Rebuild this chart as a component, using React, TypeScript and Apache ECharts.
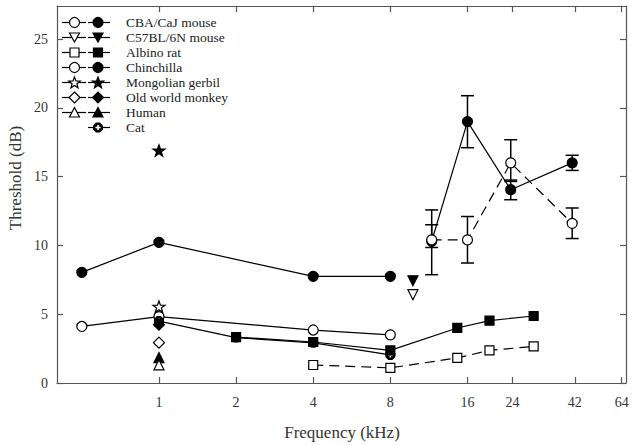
import React, { useEffect, useRef } from "react";
import * as echarts from "echarts";

// ---------- data ----------
const xTickValues = [1, 2, 4, 8, 16, 24, 42, 64];
const yTickValues = [0, 5, 10, 15, 20, 25];

const cbaFreq = [11.6, 16, 23.6, 41];
const cbaFilled = [10.3, 19.0, 14.05, 16.0];
const cbaFilledLow = [7.87, 17.1, 13.32, 15.45];
const cbaFilledHigh = [12.58, 20.88, 14.75, 16.55];
const cbaOpen = [10.4, 10.4, 16.0, 11.6];
const cbaOpenLow = [9.85, 8.72, 14.65, 10.5];
const cbaOpenHigh = [11.5, 12.1, 17.68, 12.72];

const c57Freq = [9.8];
const c57Filled = [7.43];
const c57Open = [6.42];

const ratFilledFreq = [2, 4, 8, 14.6, 19.5, 29];
const ratFilled = [3.34, 2.98, 2.37, 4.0, 4.53, 4.87];
const ratOpenFreq = [4, 8, 14.6, 19.5, 29];
const ratOpen = [1.31, 1.1, 1.82, 2.37, 2.66];

const chinFreq = [0.5, 1, 4, 8];
const chinFilled = [8.04, 10.22, 7.75, 7.75];
const chinOpen = [4.11, 4.82, 3.85, 3.5];

const gerbilFreq = [1];
const gerbilFilled = [16.9];
const gerbilOpen = [5.55];

const monkeyFreq = [1];
const monkeyFilled = [4.24];
const monkeyOpen = [2.93];

const humanFreq = [1];
const humanFilled = [1.85];
const humanOpen = [1.32];

const catFreq = [1, 2, 4, 8];
const catFilled = [4.5, 3.3, 2.92, 2.04];

const legendLabels = [
  "CBA/CaJ mouse",
  "C57BL/6N mouse",
  "Albino rat",
  "Chinchilla",
  "Mongolian gerbil",
  "Old world monkey",
  "Human",
  "Cat",
];
const legendKinds = ["circle", "triDown", "square", "circle", "star", "diamond", "triUp", "cat"];

const xTitle = "Frequency (kHz)";
const yTitle = "Threshold (dB)";

// ---------- helpers ----------
const FONT = "'Liberation Serif', 'DejaVu Serif', serif";
const INK = "#000";

function starPath(): string {
  const pts: string[] = [];
  for (let k = 0; k < 10; k++) {
    const a = -Math.PI / 2 + (k * Math.PI) / 5;
    const r = k % 2 === 0 ? 50 : 20;
    pts.push(`${(50 + r * Math.cos(a)).toFixed(2)},${(50 + r * Math.sin(a)).toFixed(2)}`);
  }
  return "path://M" + pts.join(" L") + " Z";
}
const STAR = starPath();
const CAT =
  "path://M6,0 L14,0 L20,6 L20,14 L14,20 L6,20 L0,14 L0,6 Z M8.5,5 L8.5,8.5 L5,8.5 L5,11.5 L8.5,11.5 L8.5,15 L11.5,15 L11.5,11.5 L15,11.5 L15,8.5 L11.5,8.5 L11.5,5 Z";

function pairs(xs: number[], ys: number[]) {
  return xs.map((x, i) => [x, ys[i]]);
}
function triples(xs: number[], lo: number[], hi: number[]) {
  return xs.map((x, i) => [x, lo[i], hi[i]]);
}

type SymSpec = { symbol: string; size: number; rotate?: number; keep?: boolean };
const SYM: Record<string, SymSpec> = {
  circle: { symbol: "circle", size: 10 },
  square: { symbol: "rect", size: 9 },
  triDown: { symbol: "triangle", size: 10, rotate: 180 },
  triUp: { symbol: "triangle", size: 10 },
  diamond: { symbol: "diamond", size: 11 },
  star: { symbol: STAR, size: 12, keep: true },
  cat: { symbol: CAT, size: 10 },
};

function lineSeries(
  name: string,
  data: number[][],
  kind: string,
  filled: boolean,
  opts: { line?: boolean; dashed?: boolean } = {}
) {
  const s = SYM[kind];
  return {
    type: "line",
    name,
    data,
    symbol: s.symbol,
    symbolSize: s.size,
    symbolRotate: s.rotate || 0,
    symbolKeepAspect: !!s.keep,
    showAllSymbol: true,
    z: 3,
    lineStyle: {
      color: INK,
      width: opts.line === false ? 0 : 1.2,
      type: opts.dashed ? [10, 6] : "solid",
      opacity: opts.line === false ? 0 : 1,
    },
    itemStyle: {
      color: filled ? INK : "#fff",
      borderColor: INK,
      borderWidth: kind === "cat" ? 0 : 1.2,
    },
    emphasis: { disabled: true },
  };
}

function errorSeries(name: string, data: number[][]) {
  return {
    type: "custom",
    name,
    data,
    z: 1,
    encode: { x: 0, y: [1, 2] },
    renderItem: (_p: any, api: any) => {
      const x = api.value(0);
      const lo = api.coord([x, api.value(1)]);
      const hi = api.coord([x, api.value(2)]);
      const hw = 6.5;
      const st = { stroke: INK, lineWidth: 1.5 };
      return {
        type: "group",
        children: [
          { type: "line", shape: { x1: lo[0], y1: lo[1], x2: hi[0], y2: hi[1] }, style: st },
          { type: "line", shape: { x1: lo[0] - hw, y1: lo[1], x2: lo[0] + hw, y2: lo[1] }, style: st },
          { type: "line", shape: { x1: hi[0] - hw, y1: hi[1], x2: hi[0] + hw, y2: hi[1] }, style: st },
        ],
      };
    },
  };
}

function legendShape(kind: string, cx: number, cy: number, filled: boolean): any[] {
  const fill = filled ? INK : "#fff";
  const style = { fill, stroke: INK, lineWidth: 1.2 };
  switch (kind) {
    case "circle":
      return [{ type: "circle", shape: { cx, cy, r: 5 }, style }];
    case "square":
      return [{ type: "rect", shape: { x: cx - 4.5, y: cy - 4.5, width: 9, height: 9 }, style }];
    case "triDown":
      return [{ type: "polygon", shape: { points: [[cx - 5, cy - 4.5], [cx + 5, cy - 4.5], [cx, cy + 4.5]] }, style }];
    case "triUp":
      return [{ type: "polygon", shape: { points: [[cx, cy - 5], [cx + 5, cy + 4.5], [cx - 5, cy + 4.5]] }, style }];
    case "diamond":
      return [{ type: "polygon", shape: { points: [[cx, cy - 5.5], [cx + 5.5, cy], [cx, cy + 5.5], [cx - 5.5, cy]] }, style }];
    case "star": {
      const pts: number[][] = [];
      for (let k = 0; k < 10; k++) {
        const a = -Math.PI / 2 + (k * Math.PI) / 5;
        const r = k % 2 === 0 ? 6 : 2.5;
        pts.push([cx + r * Math.cos(a), cy + 0.5 + r * Math.sin(a)]);
      }
      return [{ type: "polygon", shape: { points: pts }, style }];
    }
    case "cat": {
      const o = 5, c = 2;
      return [
        {
          type: "polygon",
          shape: {
            points: [
              [cx - c, cy - o], [cx + c, cy - o], [cx + o, cy - c], [cx + o, cy + c],
              [cx + c, cy + o], [cx - c, cy + o], [cx - o, cy + c], [cx - o, cy - c],
            ],
          },
          style: { fill: INK },
        },
        { type: "rect", shape: { x: cx - 0.8, y: cy - 2.6, width: 1.6, height: 5.2 }, style: { fill: "#fff" } },
        { type: "rect", shape: { x: cx - 2.6, y: cy - 0.8, width: 5.2, height: 1.6 }, style: { fill: "#fff" } },
      ];
    }
  }
  return [];
}

function buildLegend(): any[] {
  const els: any[] = [];
  legendLabels.forEach((label, i) => {
    const y = 22.5 + i * 15;
    const kind = legendKinds[i];
    const hasOpen = kind !== "cat";
    if (hasOpen) {
      els.push({ type: "line", shape: { x1: 62, y1: y, x2: 86, y2: y }, style: { stroke: INK, lineWidth: 1.2 } });
      els.push(...legendShape(kind, 74.5, y, false));
    }
    els.push({ type: "line", shape: { x1: 88, y1: y, x2: 110, y2: y }, style: { stroke: INK, lineWidth: 1.2 } });
    els.push(...legendShape(kind, 98, y, true));
    els.push({
      type: "text",
      x: 126,
      y,
      style: { text: label, font: `13.5px ${FONT}`, fill: "#222", verticalAlign: "middle", align: "left" },
    });
  });
  return els.map((e) => ({ ...e, z: 100 }));
}

const X_MIN = 0.4;
const X_MAX = 66.5;
const Y_MIN = 0;
const Y_MAX = 27.4;

const axisLineStyle = { color: "#555", width: 1.2 };

export default function App() {
  const ref = useRef<HTMLDivElement>(null);
  useEffect(() => {
    if (!ref.current) return;
    document.body.style.margin = "0";
    const chart = echarts.init(ref.current, undefined, { renderer: "svg" });
    const xBase = {
      type: "log",
      logBase: 2,
      min: X_MIN,
      max: X_MAX,
      axisLine: { show: true, onZero: false, lineStyle: axisLineStyle },
      axisTick: { show: true, inside: true, length: 6, customValues: xTickValues, lineStyle: axisLineStyle },
      splitLine: { show: false },
      minorTick: { show: false },
    };
    const yBase = {
      type: "value",
      min: Y_MIN,
      max: Y_MAX,
      axisLine: { show: true, onZero: false, lineStyle: axisLineStyle },
      axisTick: { show: true, inside: true, length: 6, customValues: yTickValues, lineStyle: axisLineStyle },
      splitLine: { show: false },
    };
    const option: any = {
      animation: false,
      backgroundColor: "#fff",
      grid: { left: 57, right: 8, top: 6, bottom: 62, containLabel: false },
      xAxis: [
        {
          ...xBase,
          position: "bottom",
          axisLabel: {
            show: true,
            customValues: xTickValues,
            formatter: (v: number) => String(Math.round(v)),
            fontFamily: FONT,
            fontSize: 14,
            color: "#333",
            margin: 12,
          },
        },
        { ...xBase, position: "top", axisLabel: { show: false } },
      ],
      yAxis: [
        {
          ...yBase,
          position: "left",
          axisLabel: {
            show: true,
            customValues: yTickValues,
            fontFamily: FONT,
            fontSize: 14,
            color: "#333",
            margin: 9,
          },
        },
        { ...yBase, position: "right", axisLabel: { show: false } },
      ],
      graphic: [
        ...buildLegend(),
        {
          type: "text",
          x: 15,
          y: 178,
          rotation: Math.PI / 2,
          style: { text: yTitle, font: `17px ${FONT}`, fill: "#333", align: "center", verticalAlign: "middle" },
        },
        {
          type: "text",
          x: 342,
          y: 432,
          style: { text: xTitle, font: `17px ${FONT}`, fill: "#333", align: "center", verticalAlign: "middle" },
        },
      ],
      series: [
        errorSeries("CBA filled err", triples(cbaFreq, cbaFilledLow, cbaFilledHigh)),
        errorSeries("CBA open err", triples(cbaFreq, cbaOpenLow, cbaOpenHigh)),
        lineSeries("Chinchilla filled", pairs(chinFreq, chinFilled), "circle", true),
        lineSeries("Chinchilla open", pairs(chinFreq, chinOpen), "circle", false),
        lineSeries("Albino rat open", pairs(ratOpenFreq, ratOpen), "square", false, { dashed: true }),
        lineSeries("Albino rat filled", pairs(ratFilledFreq, ratFilled), "square", true),
        lineSeries("C57 filled", pairs(c57Freq, c57Filled), "triDown", true, { line: false }),
        lineSeries("C57 open", pairs(c57Freq, c57Open), "triDown", false, { line: false }),
        lineSeries("CBA filled", pairs(cbaFreq, cbaFilled), "circle", true),
        lineSeries("CBA open", pairs(cbaFreq, cbaOpen), "circle", false, { dashed: true }),
        lineSeries("Gerbil filled", pairs(gerbilFreq, gerbilFilled), "star", true, { line: false }),
        lineSeries("Gerbil open", pairs(gerbilFreq, gerbilOpen), "star", false, { line: false }),
        lineSeries("Monkey open", pairs(monkeyFreq, monkeyOpen), "diamond", false, { line: false }),
        lineSeries("Monkey filled", pairs(monkeyFreq, monkeyFilled), "diamond", true, { line: false }),
        lineSeries("Human filled", pairs(humanFreq, humanFilled), "triUp", true, { line: false }),
        lineSeries("Human open", pairs(humanFreq, humanOpen), "triUp", false, { line: false }),
        lineSeries("Cat", pairs(catFreq, catFilled), "cat", true),
      ],
    };
    chart.setOption(option);
    return () => chart.dispose();
  }, []);
  return <div ref={ref} style={{ width: 634, height: 445 }} />;
}
